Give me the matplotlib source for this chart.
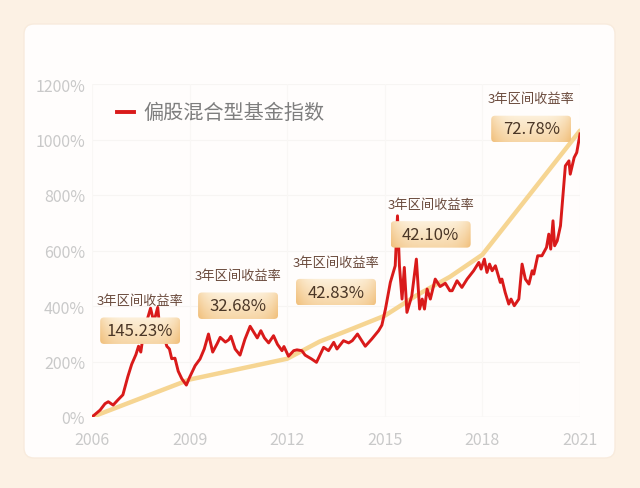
import numpy as np
import matplotlib
matplotlib.use("Agg")
import matplotlib.pyplot as plt
from matplotlib.patches import FancyBboxPatch
from matplotlib.lines import Line2D
from matplotlib.colors import to_rgb

plt.rcParams['font.family'] = ['Noto Sans CJK SC', 'DejaVu Sans']

# fund index, cumulative return (%)
years = [2006.0, 2006.12, 2006.25, 2006.4, 2006.5, 2006.65, 2006.8, 2006.95, 2007.1, 2007.22,
         2007.35, 2007.43, 2007.5, 2007.6, 2007.72, 2007.8, 2007.9, 2008.02, 2008.1, 2008.2,
         2008.3, 2008.38, 2008.45, 2008.55, 2008.65, 2008.76, 2008.9, 2009.0, 2009.17, 2009.32,
         2009.45, 2009.58, 2009.71, 2009.85, 2009.94, 2010.1, 2010.2, 2010.27, 2010.4, 2010.55,
         2010.7, 2010.86, 2011.0, 2011.08, 2011.19, 2011.3, 2011.43, 2011.58, 2011.7, 2011.84,
         2011.9, 2012.04, 2012.2, 2012.3, 2012.45, 2012.55, 2012.75, 2012.9, 2013.12, 2013.27,
         2013.43, 2013.53, 2013.73, 2013.89, 2014.0, 2014.16, 2014.4, 2014.6, 2014.81, 2014.91,
         2015.02, 2015.17, 2015.32, 2015.39, 2015.45, 2015.53, 2015.6, 2015.68, 2015.83, 2015.97,
         2016.07, 2016.15, 2016.22, 2016.3, 2016.4, 2016.55, 2016.7, 2016.86, 2017.0, 2017.07,
         2017.22, 2017.37, 2017.53, 2017.73, 2017.89, 2017.96, 2018.06, 2018.14, 2018.22, 2018.3,
         2018.4, 2018.55, 2018.6, 2018.7, 2018.81, 2018.88, 2018.98, 2019.12, 2019.22, 2019.32,
         2019.43, 2019.53, 2019.58, 2019.7, 2019.83, 2019.97, 2020.04, 2020.1, 2020.17, 2020.22,
         2020.3, 2020.4, 2020.55, 2020.66, 2020.7, 2020.77, 2020.82, 2020.9, 2021.0]
index_pct = [0, 12, 25, 48, 55, 43, 62, 80, 145, 190,
             225, 255, 234, 315, 360, 392, 342, 395, 300, 295,
             255, 245, 210, 212, 165, 138, 115, 143, 185, 209,
             245, 299, 234, 265, 287, 270, 278, 291, 245, 223,
             280, 327, 300, 285, 311, 285, 267, 293, 262, 239,
             254, 219, 239, 242, 239, 223, 209, 197, 251, 239,
             269, 245, 275, 267, 275, 299, 255, 281, 311, 331,
             389, 485, 545, 725, 545, 425, 539, 377, 437, 569,
             389, 425, 389, 461, 425, 497, 470, 482, 455, 455,
             491, 467, 497, 527, 557, 533, 569, 521, 551, 527,
             545, 485, 497, 449, 407, 425, 401, 425, 551, 497,
             479, 527, 515, 581, 581, 611, 659, 605, 707, 617,
             635, 689, 905, 923, 875, 911, 935, 953, 1020]

# trend line linking the 3-year windows
trend_years = [2006, 2009, 2012, 2013, 2014, 2015, 2016, 2017, 2018, 2021]
trend_pct = [0, 135, 210, 272, 318, 365, 440, 505, 585, 1032]

period_labels = ['3年区间收益率'] * 5
period_returns = ['145.23%', '32.68%', '42.83%', '42.10%', '72.78%']
# box centres (year, pct) for each annotation
box_pos = [(2007.48, 311), (2010.49, 401), (2013.5, 450), (2016.41, 658), (2019.5, 1038)]

xticks = [2006, 2009, 2012, 2015, 2018, 2021]
yticks = [0, 200, 400, 600, 800, 1000, 1200]

W, H = 640, 489
fig = plt.figure(figsize=(W / 100, H / 100), dpi=100, facecolor='#FCF1E4')

# white inner card
card = FancyBboxPatch((24 / W, 1 - 459 / H), 591 / W, 434 / H,
                      boxstyle='round,pad=0,rounding_size=%f' % (10 / W),
                      mutation_aspect=W / H, transform=fig.transFigure,
                      facecolor='#FFFDFC', edgecolor='#F8EBDD', lw=1, zorder=0)
fig.add_artist(card)

ax = fig.add_axes([92 / W, 1 - 418 / H, 488 / W, 333 / H])
ax.set_facecolor('none')
ax.set_xlim(2006, 2021)
ax.set_ylim(0, 1200)
for s in ax.spines.values():
    s.set_visible(False)
ax.set_xticks(xticks)
ax.set_yticks(yticks)
ax.set_yticklabels(['%d%%' % v for v in yticks])
ax.tick_params(length=0, labelsize=11.5, labelcolor='#C9C9C9')
ax.tick_params(axis='x', pad=10)
ax.tick_params(axis='y', pad=5)
for v in yticks[1:]:
    ax.axhline(v, color='#F7F5F3', lw=0.8, zorder=0)
ax.axhline(0, color='#EEEBE8', lw=1, zorder=0)
for v in xticks:
    ax.axvline(v, color='#F9F7F5', lw=0.8, zorder=0)

ax.plot(trend_years, trend_pct, color='#F6D592', lw=3.2, solid_capstyle='round', zorder=2)
ax.plot(years, index_pct, color='#D91A1A', lw=2.1, zorder=3)

# annotation boxes with gradient fill
px_per_x = 488 / 15
px_per_y = 333 / 1200
aspect = px_per_x / px_per_y
bw, bh = 80 / px_per_x, 26.5 / px_per_y
light = np.array(to_rgb('#FDF1DC'))
dark = np.array(to_rgb('#F1C07C'))
u = np.linspace(-1, 1, 120)
v = np.linspace(0, 1, 40)
U, V = np.meshgrid(u, v)
w = np.clip(0.55 * V + 0.5 * np.abs(U) ** 4, 0, 1)
grad = light[None, None, :] * (1 - w[..., None]) + dark[None, None, :] * w[..., None]

for lab, val, (cx, cy) in zip(period_labels, period_returns, box_pos):
    x0, y0 = cx - bw / 2, cy - bh / 2
    box = FancyBboxPatch((x0, y0), bw, bh,
                         boxstyle='round,pad=0,rounding_size=%f' % (4 / px_per_x),
                         mutation_aspect=aspect, facecolor='none', edgecolor='none', zorder=4)
    ax.add_patch(box)
    im = ax.imshow(grad, extent=(x0, x0 + bw, y0, y0 + bh), origin='upper',
                   aspect='auto', zorder=4)
    im.set_clip_path(box)
    ax.text(cx, cy, val, ha='center', va='center', fontsize=12, color='#4A3626', zorder=5)
    ax.text(cx, cy + 30 / px_per_y, lab, ha='center', va='center', fontsize=9.5,
            color='#6A4A3C', zorder=5)

ax.set_xlim(2006, 2021)
ax.set_ylim(0, 1200)

# legend
fig.add_artist(Line2D([117 / W, 134 / W], [1 - 113 / H, 1 - 113 / H],
                      color='#D91A1A', lw=2.8, transform=fig.transFigure))
fig.text(143 / W, 1 - 113 / H, '偏股混合型基金指数', ha='left', va='center',
         fontsize=14.5, color='#7E7E7E')

fig.savefig('out.png', dpi=100, facecolor=fig.get_facecolor())
